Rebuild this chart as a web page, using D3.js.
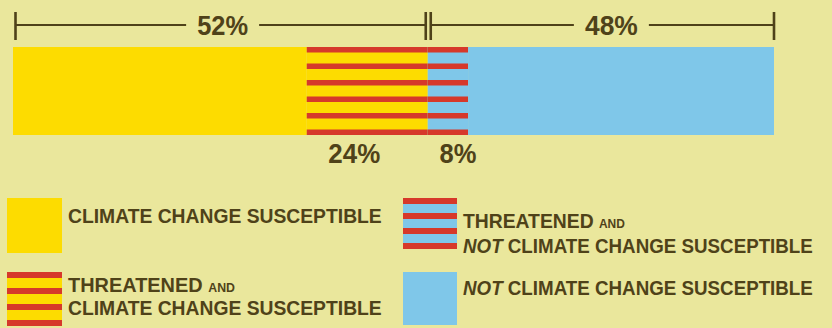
<!DOCTYPE html>
<html>
<head>
<meta charset="utf-8">
<script src="https://cdn.jsdelivr.net/npm/d3@7"></script>
<style>
  body { margin: 0; background: #eae79c; }
  svg { display: block; font-family: "Liberation Sans", Arial, sans-serif; }
</style>
</head>
<body>
<svg id="chart" width="832" height="328"></svg>
<script>
// segments of the bar, left to right
const categories = [
  "Climate change susceptible",
  "Threatened and climate change susceptible",
  "Threatened and not climate change susceptible",
  "Not climate change susceptible"
];
// share of bar length as drawn
const shares = [38.6, 15.9, 5.3, 40.2];
// bracket groups above the bar
const groupLabels = ["52%", "48%"];
const groupMembers = [[0, 1], [2, 3]];
// labels under the threatened segments
const threatLabels = ["24%", "8%"];
const threatIndex = [1, 2];

const colors = {
  bg: "#eae79c",
  yellow: "#fddc00",
  blue: "#7fc7e9",
  red: "#d6392a",
  ink: "#4f4219"
};
const segStyle = [
  { base: colors.yellow, striped: false },
  { base: colors.yellow, striped: true },
  { base: colors.blue, striped: true },
  { base: colors.blue, striped: false }
];

const svg = d3.select("#chart");
svg.append("rect").attr("width", 832).attr("height", 328).attr("fill", colors.bg);

const barTop = 47, barH = 88;
const x = d3.scaleLinear().domain([0, d3.sum(shares)]).range([13, 774]);
const ends = Array.from(d3.cumsum(shares));
const starts = ends.map((e, i) => e - shares[i]);

// draws a block with horizontal red stripes (first at top, last at bottom)
function stripedBlock(g, x0, y0, w, h, base, striped, n, t) {
  g.append("rect").attr("x", x0).attr("y", y0).attr("width", w).attr("height", h).attr("fill", base);
  if (!striped) return;
  const step = (h - t) / (n - 1);
  g.selectAll(null)
    .data(d3.range(n))
    .join("rect")
    .attr("x", x0)
    .attr("y", (i) => y0 + i * step)
    .attr("width", w)
    .attr("height", t)
    .attr("fill", colors.red);
}

// bar
const bar = svg.append("g").attr("class", "bar");
categories.forEach((c, i) => {
  const g = bar.append("g");
  stripedBlock(g, x(starts[i]), barTop, x(ends[i]) - x(starts[i]), barH,
    segStyle[i].base, segStyle[i].striped, 6, 5.5);
});

// fit a text element to a given width by horizontal scaling
function fitText(text, tx, ty, width) {
  const w = text.node().getBBox().width;
  text.attr("transform", `translate(${tx},${ty}) scale(${width / w},1)`);
}

// brackets
const bracket = svg.append("g").attr("stroke", colors.ink).attr("fill", "none");
const lineY = 25;
const labelWidths = [51, 53];
const labelShift = [2, 9];
groupMembers.forEach((m, gi) => {
  const x0 = x(starts[m[0]]) + (gi === 0 ? 2.5 : 3);
  const x1 = x(ends[m[m.length - 1]]) - (gi === 0 ? 2 : 0);
  const cx = (x0 + x1) / 2 + labelShift[gi];
  const t = svg.append("text")
    .attr("font-size", 28)
    .attr("font-weight", "bold")
    .attr("fill", colors.ink)
    .attr("text-anchor", "middle")
    .text(groupLabels[gi]);
  fitText(t, cx, 35, labelWidths[gi]);
  const half = labelWidths[gi] / 2 + 11;
  bracket.append("line").attr("x1", x0).attr("x2", cx - half).attr("y1", lineY).attr("y2", lineY).attr("stroke-width", 2.2);
  bracket.append("line").attr("x1", cx + half).attr("x2", x1).attr("y1", lineY).attr("y2", lineY).attr("stroke-width", 2.2);
  [x0, x1].forEach((xx) => {
    bracket.append("line").attr("x1", xx).attr("x2", xx).attr("y1", 12).attr("y2", 40).attr("stroke-width", 2.6);
  });
});

// labels below threatened segments
const threatWidths = [52, 37];
const threatShift = [-13, 10];
threatLabels.forEach((l, i) => {
  const k = threatIndex[i];
  const cx = (x(starts[k]) + x(ends[k])) / 2 + threatShift[i];
  const t = svg.append("text")
    .attr("font-size", 28)
    .attr("font-weight", "bold")
    .attr("fill", colors.ink)
    .attr("text-anchor", "middle")
    .text(l);
  fitText(t, cx, 163, threatWidths[i]);
});

// legend
const legend = [
  { seg: 0, sx: 7, sy: 198, sw: 55, sh: 55, n: 4, t: 6,
    lines: [{ y: 223, w: 314, parts: [["CLIMATE CHANGE SUSCEPTIBLE"]] }] },
  { seg: 1, sx: 7, sy: 272, sw: 55, sh: 54, n: 4, t: 6,
    lines: [{ y: 292, w: 167, parts: [["THREATENED "], ["AND", "small"]] },
            { y: 315, w: 314, parts: [["CLIMATE CHANGE SUSCEPTIBLE"]] }] },
  { seg: 2, sx: 403, sy: 198, sw: 54, sh: 51, n: 4, t: 6,
    lines: [{ y: 228, w: 162, parts: [["THREATENED "], ["AND", "small"]] },
            { y: 253, w: 350, parts: [["NOT", "italic"], [" CLIMATE CHANGE SUSCEPTIBLE"]] }] },
  { seg: 3, sx: 403, sy: 272, sw: 54, sh: 53, n: 4, t: 6,
    lines: [{ y: 295, w: 350, parts: [["NOT", "italic"], [" CLIMATE CHANGE SUSCEPTIBLE"]] }] }
];

const lg = svg.append("g").attr("class", "legend");
legend.forEach((e) => {
  const g = lg.append("g");
  stripedBlock(g, e.sx, e.sy, e.sw, e.sh, segStyle[e.seg].base, segStyle[e.seg].striped, e.n, e.t);
  e.lines.forEach((ln) => {
    const t = g.append("text")
      .attr("font-size", 21)
      .attr("font-weight", "bold")
      .attr("fill", colors.ink);
    ln.parts.forEach(([s, style]) => {
      const sp = t.append("tspan").text(s);
      if (style === "small") sp.attr("font-size", 13);
      if (style === "italic") sp.attr("font-style", "italic");
    });
    fitText(t, e.sx + e.sw + 6, ln.y, ln.w);
  });
});
</script>
</body>
</html>
